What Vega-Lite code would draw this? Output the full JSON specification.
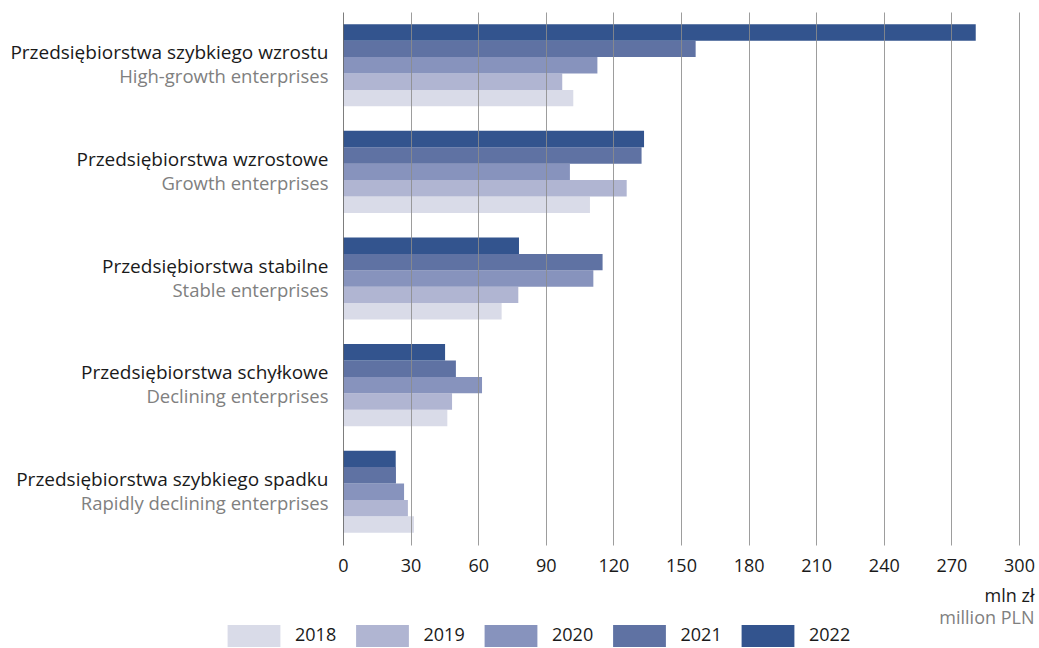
{
  "$schema": "https://vega.github.io/schema/vega-lite/v6.json",
  "autosize": "none",
  "width": 676,
  "height": 533,
  "padding": {"left": 343, "top": 12, "right": 20, "bottom": 103},
  "config": {"font": "Open Sans", "view": {"stroke": null}},
  "data": {
    "values": [
      {"cat": "Przedsiębiorstwa szybkiego wzrostu", "year": "2018", "value": 102.2},
      {"cat": "Przedsiębiorstwa szybkiego wzrostu", "year": "2019", "value": 97.3},
      {"cat": "Przedsiębiorstwa szybkiego wzrostu", "year": "2020", "value": 112.9},
      {"cat": "Przedsiębiorstwa szybkiego wzrostu", "year": "2021", "value": 156.5},
      {"cat": "Przedsiębiorstwa szybkiego wzrostu", "year": "2022", "value": 280.8},
      {"cat": "Przedsiębiorstwa wzrostowe", "year": "2018", "value": 109.6},
      {"cat": "Przedsiębiorstwa wzrostowe", "year": "2019", "value": 125.9},
      {"cat": "Przedsiębiorstwa wzrostowe", "year": "2020", "value": 100.7},
      {"cat": "Przedsiębiorstwa wzrostowe", "year": "2021", "value": 132.5},
      {"cat": "Przedsiębiorstwa wzrostowe", "year": "2022", "value": 133.6},
      {"cat": "Przedsiębiorstwa stabilne", "year": "2018", "value": 70.4},
      {"cat": "Przedsiębiorstwa stabilne", "year": "2019", "value": 77.8},
      {"cat": "Przedsiębiorstwa stabilne", "year": "2020", "value": 111.1},
      {"cat": "Przedsiębiorstwa stabilne", "year": "2021", "value": 115.2},
      {"cat": "Przedsiębiorstwa stabilne", "year": "2022", "value": 78.1},
      {"cat": "Przedsiębiorstwa schyłkowe", "year": "2018", "value": 46.3},
      {"cat": "Przedsiębiorstwa schyłkowe", "year": "2019", "value": 48.4},
      {"cat": "Przedsiębiorstwa schyłkowe", "year": "2020", "value": 61.7},
      {"cat": "Przedsiębiorstwa schyłkowe", "year": "2021", "value": 50.1},
      {"cat": "Przedsiębiorstwa schyłkowe", "year": "2022", "value": 45.3},
      {"cat": "Przedsiębiorstwa szybkiego spadku", "year": "2018", "value": 31.5},
      {"cat": "Przedsiębiorstwa szybkiego spadku", "year": "2019", "value": 28.8},
      {"cat": "Przedsiębiorstwa szybkiego spadku", "year": "2020", "value": 27.1},
      {"cat": "Przedsiębiorstwa szybkiego spadku", "year": "2021", "value": 23.5},
      {"cat": "Przedsiębiorstwa szybkiego spadku", "year": "2022", "value": 23.4}
    ]
  },
  "layer": [
    {
      "mark": {"type": "bar"},
      "encoding": {
        "y": {
          "field": "cat",
          "type": "nominal",
          "sort": null,
          "scale": {"paddingInner": 0.23, "paddingOuter": 0.115},
          "axis": {
            "orient": "left",
            "title": null,
            "ticks": false,
            "domain": false,
            "labelFontSize": 19,
            "labelColor": "#1a1a1a",
            "labelOffset": -12,
            "labelPadding": 15,
            "labelLimit": 400
          }
        },
        "yOffset": {"field": "year", "type": "nominal", "sort": "descending"},
        "x": {
          "field": "value",
          "type": "quantitative",
          "scale": {"domain": [0, 300]},
          "axis": {
            "orient": "bottom",
            "values": [0, 30, 60, 90, 120, 150, 180, 210, 240, 270, 300],
            "ticks": false,
            "domain": false,
            "grid": true,
            "zindex": 1,
            "gridColor": {"condition": {"test": "datum.value === 0", "value": "#666666"}, "value": "#8c8c8c"},
            "gridOpacity": 0.85,
            "labelFlush": false,
            "labelFontSize": 18,
            "labelColor": "#1a1a1a",
            "labelPadding": 12,
            "title": "mln zł",
            "titleFontSize": 18,
            "titleFontWeight": "normal",
            "titleColor": "#1a1a1a",
            "titleX": 691,
            "titleY": 51,
            "titleAlign": "right",
            "titleBaseline": "middle"
          }
        },
        "color": {
          "field": "year",
          "type": "nominal",
          "scale": {
            "domain": ["2018", "2019", "2020", "2021", "2022"],
            "range": ["#d9dbe8", "#b0b5d2", "#8793bd", "#5f72a3", "#33548e"]
          },
          "legend": {
            "orient": "none",
            "direction": "horizontal",
            "legendX": -100,
            "legendY": 613,
            "title": null,
            "padding": 0,
            "symbolType": "M-2.4,-1H2.4V1H-2.4Z",
            "symbolSize": 484,
            "symbolStrokeWidth": 0,
            "symbolOpacity": 1,
            "labelFontSize": 18,
            "labelColor": "#1a1a1a",
            "labelOffset": 30,
            "columnPadding": 18.5
          }
        }
      }
    },
    {
      "mark": {"type": "bar", "opacity": 0},
      "encoding": {
        "y": {
          "field": "cat",
          "type": "nominal",
          "sort": null,
          "axis": {
            "orient": "left",
            "title": null,
            "ticks": false,
            "domain": false,
            "labelFontSize": 18.5,
            "labelColor": "#808080",
            "labelOffset": 12,
            "labelPadding": 15,
            "labelLimit": 400,
            "labelExpr": "datum.value === 'Przedsiębiorstwa szybkiego wzrostu' ? 'High-growth enterprises' : datum.value === 'Przedsiębiorstwa wzrostowe' ? 'Growth enterprises' : datum.value === 'Przedsiębiorstwa stabilne' ? 'Stable enterprises' : datum.value === 'Przedsiębiorstwa schyłkowe' ? 'Declining enterprises' : 'Rapidly declining enterprises'"
          }
        },
        "x": {
          "field": "value",
          "type": "quantitative",
          "axis": {
            "orient": "bottom",
            "labels": false,
            "ticks": false,
            "domain": false,
            "grid": false,
            "title": "million PLN",
            "titleFontSize": 18,
            "titleFontWeight": "normal",
            "titleColor": "#808080",
            "titleX": 691,
            "titleY": 73,
            "titleAlign": "right",
            "titleBaseline": "middle"
          }
        }
      }
    }
  ],
  "resolve": {"axis": {"x": "independent", "y": "independent"}}
}
